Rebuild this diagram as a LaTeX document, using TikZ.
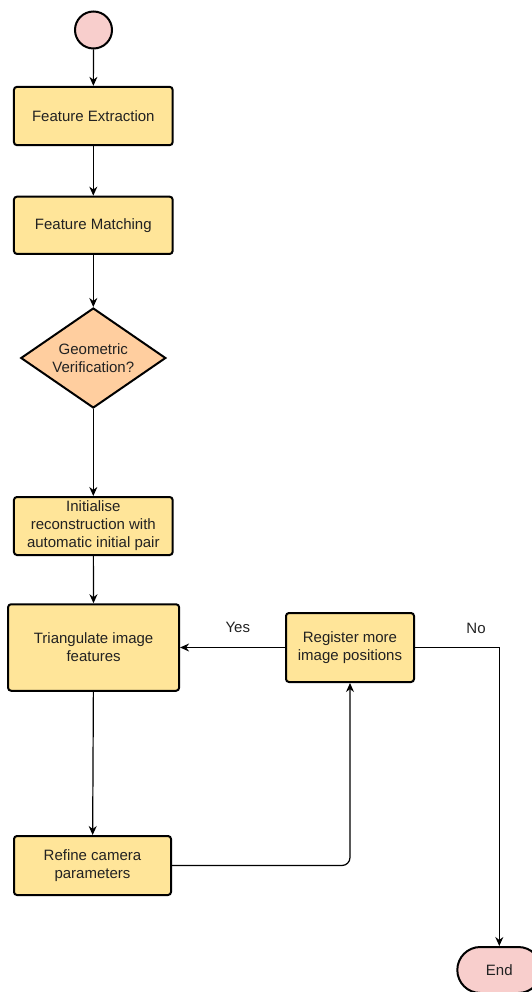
\documentclass[tikz,border=0pt]{standalone}
\usepackage{fontspec}
\setmainfont{Liberation Sans}
\usetikzlibrary{arrows.meta,shapes.geometric,shapes.misc}
\definecolor{boxfill}{HTML}{FFE599}
\definecolor{pinkfill}{HTML}{F8CECC}
\definecolor{orangefill}{HTML}{FFCE9F}
\definecolor{txt}{HTML}{222222}
\tikzset{
  every node/.style={font=\fontsize{15}{18}\selectfont, text=txt, align=center, inner sep=0pt},
  procbox/.style={draw=black, line width=2pt, rounded corners=3pt, fill=boxfill, minimum width=#1},
  decision/.style={diamond, draw=black, line width=2pt, fill=orangefill, minimum width=145pt, minimum height=100pt, aspect=1.45},
  startcirc/.style={circle, draw=black, line width=2pt, fill=pinkfill, minimum size=37pt},
  endterm/.style={rounded rectangle, draw=black, line width=2pt, fill=pinkfill, minimum width=84pt, minimum height=46pt},
  conn/.style={draw=black, line width=1.2pt, -{Stealth[length=9pt,width=8pt]}},
  lbl/.style={font=\fontsize{15}{18}\selectfont}
}
\begin{document}
\begin{tikzpicture}[x=1pt,y=-1pt]
\useasboundingbox (0,0) rectangle (532,992);
\node[startcirc] (start) at (93.5,30) {};
\node[procbox=158.7pt, minimum height=58.3pt] (fe) at (93.3,116) {Feature Extraction};
\node[procbox=158.7pt, minimum height=57.3pt] (fm) at (93.3,225.3) {Feature Matching};
\node[decision] (gv) at (93.3,358) {Geometric\\Verification?};
\node[procbox=158.7pt, minimum height=58pt] (init) at (93.3,526) {Initialise\\reconstruction with\\automatic initial pair};
\node[procbox=171pt, minimum height=86.5pt] (tri) at (93.6,647.5) {Triangulate image\\features};
\node[procbox=128pt, minimum height=69pt] (reg) at (350,647.5) {Register more\\image positions};
\node[procbox=157pt, minimum height=59pt] (ref) at (92.5,865.5) {Refine camera\\parameters};
\node[endterm] (end) at (499.3,970) {End};
\coordinate (nocorner) at (499.3,647.5);

\draw[conn] (start) -- (fe);
\draw[conn] (fe) -- (fm);
\draw[conn] (fm) -- (gv);
\draw[conn] (gv) -- (init);
\draw[conn] (init) -- (tri);
\draw[conn] (tri) -- (ref);
\draw[conn] (reg) -- node[lbl, above=14pt, pos=0.45] {Yes} (tri);
\draw[conn] (reg.east) -- (nocorner) -- (end.north);
\node[lbl] (nolbl) at (476,628) {No};
\draw[conn, rounded corners=8pt] (ref.east) -| (reg.south);
\end{tikzpicture}
\end{document}
